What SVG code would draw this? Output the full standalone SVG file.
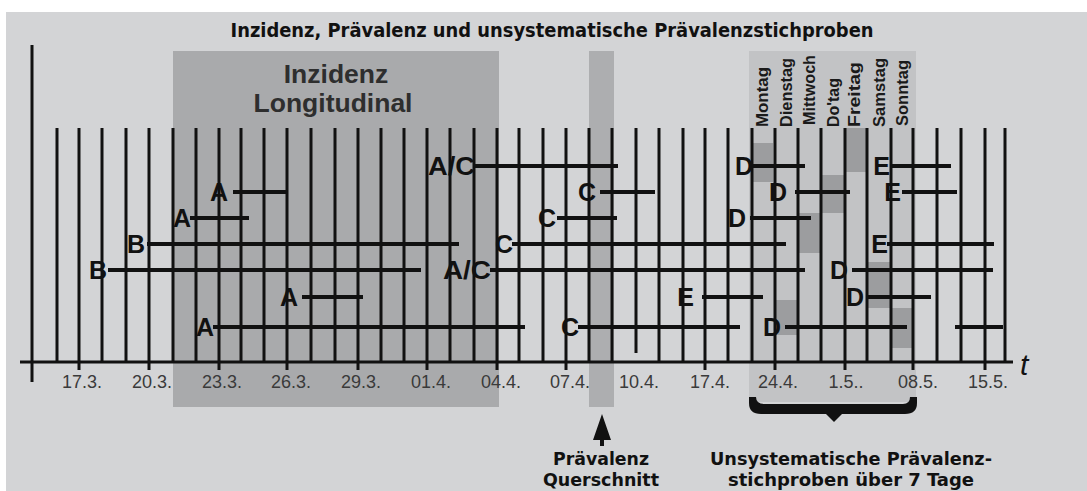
<svg xmlns="http://www.w3.org/2000/svg" width="1087" height="491" viewBox="0 0 1087 491">
<defs>
<style>
.vl{stroke:#111;stroke-width:3}
.bar{stroke:#111;stroke-width:4}
.ax{stroke:#111;stroke-width:3}
.lt{font-family:"Liberation Sans",Arial,sans-serif;font-weight:bold;font-size:25px;fill:#111;text-anchor:end}
.dt{font-family:"Liberation Sans",Arial,sans-serif;font-size:18px;fill:#3a3a3a;text-anchor:middle}
.wd{font-family:"Liberation Sans",Arial,sans-serif;font-weight:bold;font-size:16px;fill:#1a1a1a}
.cap{font-family:"DejaVu Sans Condensed","Liberation Sans",sans-serif;font-weight:bold;font-size:19.5px;fill:#111;text-anchor:middle}
.sub{font-family:"DejaVu Sans Condensed","Liberation Sans",sans-serif;font-weight:bold;font-size:18px;fill:#111;text-anchor:middle}
.big{font-family:"Liberation Sans",Arial,sans-serif;font-weight:bold;font-size:26.5px;fill:#2e2e2e;text-anchor:middle}
.blk{fill:#9c9d9f}
</style>
</defs>
<rect x="0" y="0" width="1087" height="491" fill="#ffffff"/>
<rect x="6" y="12" width="1081" height="479" fill="#d3d4d6"/>

<g id="regions">
<rect id="inzidenz-box" x="173" y="51" width="326" height="356" fill="#a9aaac"/>
<rect id="praevalenz-band" x="589" y="51" width="25" height="356" fill="#adaeb0"/>
<rect id="wochen-box" x="749" y="51" width="167" height="351" fill="#c2c3c5"/>
<rect class="blk" x="751" y="143" width="22" height="39"/>
<rect class="blk" x="846" y="128" width="21" height="44"/>
<rect class="blk" x="822" y="175" width="23" height="38"/>
<rect class="blk" x="799" y="213" width="21" height="40"/>
<rect class="blk" x="868" y="262" width="22" height="46"/>
<rect class="blk" x="776" y="300" width="22" height="35"/>
<rect class="blk" x="891" y="308" width="22" height="40"/>
</g>

<text class="cap" x="552" y="37" textLength="643" lengthAdjust="spacingAndGlyphs">Inzidenz, Prävalenz und unsystematische Prävalenzstichproben</text>

<g id="inzidenz-label">
<text class="big" x="336" y="83">Inzidenz</text>
<text class="big" x="333" y="112">Longitudinal</text>
</g>

<g id="weekdays">
<text class="wd" transform="translate(768,127) rotate(-90)" textLength="60" lengthAdjust="spacingAndGlyphs">Montag</text>
<text class="wd" transform="translate(792,127) rotate(-90)" textLength="69" lengthAdjust="spacingAndGlyphs">Dienstag</text>
<text class="wd" transform="translate(815,125) rotate(-90)" textLength="70" lengthAdjust="spacingAndGlyphs">Mittwoch</text>
<text class="wd" transform="translate(839,127) rotate(-90)" textLength="49" lengthAdjust="spacingAndGlyphs">Do'tag</text>
<text class="wd" transform="translate(860,127) rotate(-90)" textLength="65" lengthAdjust="spacingAndGlyphs">Freitag</text>
<text class="wd" transform="translate(885,127) rotate(-90)" textLength="69" lengthAdjust="spacingAndGlyphs">Samstag</text>
<text class="wd" transform="translate(908,126) rotate(-90)" textLength="66" lengthAdjust="spacingAndGlyphs">Sonntag</text>
</g>

<g id="grid">
<line class="vl" x1="32" y1="45" x2="32" y2="382"/>
<line class="vl" x1="57" y1="128" x2="57" y2="362"/>
<line class="vl" x1="79" y1="128" x2="79" y2="370"/>
<line class="vl" x1="102" y1="128" x2="102" y2="362"/>
<line class="vl" x1="126" y1="128" x2="126" y2="362"/>
<line class="vl" x1="149" y1="128" x2="149" y2="370"/>
<line class="vl" x1="173" y1="128" x2="173" y2="362"/>
<line class="vl" x1="196" y1="128" x2="196" y2="362"/>
<line class="vl" x1="219" y1="128" x2="219" y2="370"/>
<line class="vl" x1="241" y1="128" x2="241" y2="362"/>
<line class="vl" x1="264" y1="128" x2="264" y2="362"/>
<line class="vl" x1="287" y1="128" x2="287" y2="370"/>
<line class="vl" x1="311" y1="128" x2="311" y2="362"/>
<line class="vl" x1="335" y1="128" x2="335" y2="362"/>
<line class="vl" x1="358" y1="128" x2="358" y2="370"/>
<line class="vl" x1="381" y1="128" x2="381" y2="362"/>
<line class="vl" x1="404" y1="128" x2="404" y2="362"/>
<line class="vl" x1="427" y1="128" x2="427" y2="370"/>
<line class="vl" x1="450" y1="128" x2="450" y2="362"/>
<line class="vl" x1="474" y1="128" x2="474" y2="362"/>
<line class="vl" x1="497" y1="128" x2="497" y2="370"/>
<line class="vl" x1="519" y1="128" x2="519" y2="362"/>
<line class="vl" x1="543" y1="128" x2="543" y2="362"/>
<line class="vl" x1="566" y1="128" x2="566" y2="370"/>
<line class="vl" x1="589" y1="128" x2="589" y2="362"/>
<line class="vl" x1="612" y1="128" x2="612" y2="362"/>
<line class="vl" x1="636" y1="128" x2="636" y2="353"/>
<line class="vl" x1="659" y1="128" x2="659" y2="362"/>
<line class="vl" x1="683" y1="128" x2="683" y2="362"/>
<line class="vl" x1="705" y1="128" x2="705" y2="370"/>
<line class="vl" x1="728" y1="128" x2="728" y2="362"/>
<line class="vl" x1="752" y1="128" x2="752" y2="362"/>
<line class="vl" x1="775" y1="128" x2="775" y2="370"/>
<line class="vl" x1="798" y1="128" x2="798" y2="362"/>
<line class="vl" x1="821" y1="128" x2="821" y2="362"/>
<line class="vl" x1="845" y1="128" x2="845" y2="370"/>
<line class="vl" x1="867" y1="128" x2="867" y2="362"/>
<line class="vl" x1="891" y1="128" x2="891" y2="362"/>
<line class="vl" x1="913" y1="128" x2="913" y2="370"/>
<line class="vl" x1="937" y1="128" x2="937" y2="362"/>
<line class="vl" x1="961" y1="128" x2="961" y2="362"/>
<line class="vl" x1="985" y1="128" x2="985" y2="370"/>
<line class="vl" x1="1005" y1="128" x2="1005" y2="362"/>
<line class="ax" x1="20" y1="362" x2="1013" y2="362"/>
<text x="1020" y="375" font-family="Liberation Sans, Arial, sans-serif" font-style="italic" font-size="30" fill="#111">t</text>
</g>

<g id="dates">
<text class="dt" x="82" y="388">17.3.</text>
<text class="dt" x="152" y="388">20.3.</text>
<text class="dt" x="222" y="388">23.3.</text>
<text class="dt" x="291" y="388">26.3.</text>
<text class="dt" x="361" y="388">29.3.</text>
<text class="dt" x="431" y="388">01.4.</text>
<text class="dt" x="501" y="388">04.4.</text>
<text class="dt" x="570" y="388">07.4.</text>
<text class="dt" x="639" y="388">10.4.</text>
<text class="dt" x="710" y="388">17.4.</text>
<text class="dt" x="778" y="388">24.4.</text>
<text class="dt" x="846" y="388">1.5..</text>
<text class="dt" x="918" y="388">08.5.</text>
<text class="dt" x="988" y="388">15.5.</text>
</g>

<g id="connectors">
<line class="bar" x1="475" y1="166" x2="618" y2="166"/>
<line class="bar" x1="752" y1="166" x2="805" y2="166"/>
<line class="bar" x1="890" y1="166" x2="951" y2="166"/>
<line class="bar" x1="233" y1="192" x2="287" y2="192"/>
<line class="bar" x1="600" y1="192" x2="655" y2="192"/>
<line class="bar" x1="795" y1="192" x2="850" y2="192"/>
<line class="bar" x1="902" y1="192" x2="957" y2="192"/>
<line class="bar" x1="190" y1="218" x2="249" y2="218"/>
<line class="bar" x1="557" y1="218" x2="617" y2="218"/>
<line class="bar" x1="750" y1="218" x2="811" y2="218"/>
<line class="bar" x1="147" y1="244" x2="459" y2="244"/>
<line class="bar" x1="512" y1="244" x2="786" y2="244"/>
<line class="bar" x1="887" y1="244" x2="994" y2="244"/>
<line class="bar" x1="108" y1="270" x2="421" y2="270"/>
<line class="bar" x1="490" y1="270" x2="805" y2="270"/>
<line class="bar" x1="852" y1="270" x2="993" y2="270"/>
<line class="bar" x1="302" y1="297" x2="363" y2="297"/>
<line class="bar" x1="702" y1="297" x2="763" y2="297"/>
<line class="bar" x1="868" y1="297" x2="931" y2="297"/>
<line class="bar" x1="213" y1="327" x2="525" y2="327"/>
<line class="bar" x1="578" y1="327" x2="740" y2="327"/>
<line class="bar" x1="785" y1="327" x2="907" y2="327"/>
<line class="bar" x1="955" y1="327" x2="1003" y2="327"/>
</g>

<g id="letters">
<text class="lt" x="475" y="175" textLength="47" lengthAdjust="spacingAndGlyphs">A/C</text>
<text class="lt" x="753" y="175">D</text>
<text class="lt" x="890" y="175">E</text>
<text class="lt" x="228" y="201">A</text>
<text class="lt" x="596" y="201">C</text>
<text class="lt" x="787" y="201">D</text>
<text class="lt" x="901" y="201">E</text>
<text class="lt" x="191" y="227">A</text>
<text class="lt" x="556" y="227">C</text>
<text class="lt" x="746" y="227">D</text>
<text class="lt" x="145" y="253">B</text>
<text class="lt" x="513" y="253">C</text>
<text class="lt" x="888" y="253">E</text>
<text class="lt" x="107" y="279">B</text>
<text class="lt" x="491" y="279" textLength="48" lengthAdjust="spacingAndGlyphs">A/C</text>
<text class="lt" x="848" y="279">D</text>
<text class="lt" x="298" y="306">A</text>
<text class="lt" x="694" y="306">E</text>
<text class="lt" x="864" y="306">D</text>
<text class="lt" x="214" y="336">A</text>
<text class="lt" x="579" y="336">C</text>
<text class="lt" x="781" y="336">D</text>
</g>

<g id="praevalenz-querschnitt">
<path d="M602,414 L611,440 L604,440 L604,446 L600,446 L600,440 L593,440 Z" fill="#111"/>
<text class="sub" x="601" y="465" textLength="96" lengthAdjust="spacingAndGlyphs">Prävalenz</text>
<text class="sub" x="601" y="486" textLength="116" lengthAdjust="spacingAndGlyphs">Querschnitt</text>
</g>

<g id="stichproben">
<path d="M749,397 L749,403 Q749,414 761,414 L826,414 L834,422 L842,414 L905,414 Q917,414 917,403 L917,397 L910,397 Q910,404 903,404 L765,404 Q756,404 756,397 Z" fill="#111"/>
<text class="sub" x="851" y="465" textLength="282" lengthAdjust="spacingAndGlyphs">Unsystematische Prävalenz-</text>
<text class="sub" x="851" y="486" textLength="246" lengthAdjust="spacingAndGlyphs">stichproben über 7 Tage</text>
</g>
</svg>
